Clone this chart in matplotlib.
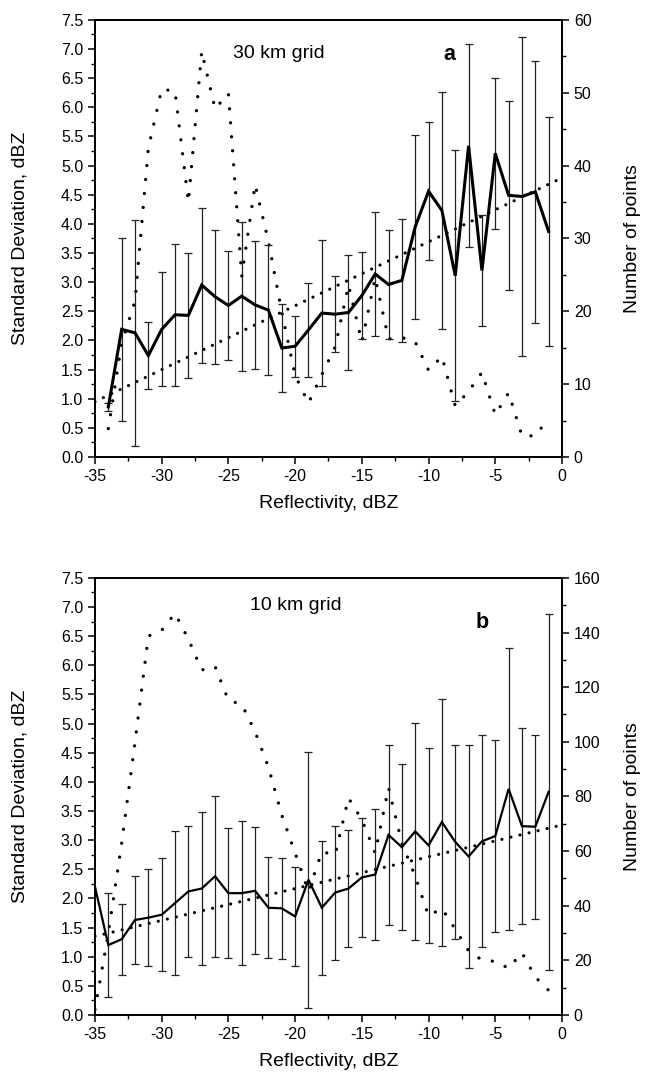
import numpy as np
import matplotlib
matplotlib.use("Agg")
import matplotlib.pyplot as plt
from matplotlib.ticker import MultipleLocator, FormatStrFormatter

plt.rcParams['font.family'] = ['Liberation Sans', 'DejaVu Sans']
plt.rcParams['axes.unicode_minus'] = False

# ---- panel a : 30 km grid ----
refl_a = [-34, -33, -32, -31, -30, -29, -28, -27, -26, -25, -24, -23, -22, -21, -20, -19, -18,
          -17, -16, -15, -14, -13, -12, -11, -10, -9, -8, -7, -6, -5, -4, -3, -2, -1]
sd_a = [0.86, 2.19, 2.13, 1.74, 2.19, 2.44, 2.43, 2.95, 2.75, 2.60, 2.76, 2.61, 2.52, 1.87, 1.90, 2.18, 2.47,
        2.45, 2.48, 2.77, 3.14, 2.96, 3.03, 3.95, 4.56, 4.23, 3.11, 5.34, 3.20, 5.21, 4.49, 4.47, 4.55, 3.87]
err_a = [0.07, 1.57, 1.94, 0.57, 0.98, 1.22, 1.07, 1.33, 1.15, 0.93, 1.28, 1.10, 1.12, 0.75, 0.52, 0.81, 1.25,
         0.65, 0.98, 0.74, 1.06, 0.94, 1.05, 1.58, 1.18, 2.03, 2.15, 1.74, 0.96, 1.29, 1.62, 2.73, 2.25, 1.97]
npts_a = [3.9, 15.6, 21.4, 42.4, 50.5, 50.2, 35.0, 55.7, 47.8, 49.9, 24.8, 37.4, 29.6, 19.9, 11.2, 7.4, 11.3,
          15.1, 23.6, 15.8, 24.6, 16.2, 16.4, 15.8, 11.9, 13.8, 7.0, 9.0, 11.6, 5.8, 8.8, 2.9, 2.9, 5.3]
fit_x_a = [-35, 0]
fit_y_a = [0.95, 4.79]

# ---- panel b : 10 km grid ----
refl_b = [-35, -34, -33, -32, -31, -30, -29, -28, -27, -26, -25, -24, -23, -22, -21, -20, -19, -18,
          -17, -16, -15, -14, -13, -12, -11, -10, -9, -8, -7, -6, -5, -4, -3, -2, -1]
sd_b = [2.20, 1.20, 1.30, 1.63, 1.67, 1.72, 1.92, 2.12, 2.17, 2.38, 2.09, 2.09, 2.13, 1.84, 1.83, 1.69, 2.32, 1.84,
        2.10, 2.17, 2.36, 2.41, 3.09, 2.88, 3.15, 2.91, 3.31, 2.97, 2.72, 2.98, 3.07, 3.88, 3.24, 3.23, 3.83]
err_b = [np.nan, 0.90, 0.61, 0.75, 0.83, 0.97, 1.24, 1.13, 1.31, 1.38, 1.12, 1.24, 1.09, 0.87, 0.87, 0.85, 2.20, 1.15,
         1.15, 1.01, 1.02, 1.13, 1.55, 1.43, 1.86, 1.67, 2.12, 1.67, 1.92, 1.82, 1.65, 2.42, 1.68, 1.58, 3.05]
npts_b = [2.0, 29.9, 62.9, 99.8, 138.7, 140.8, 147.0, 137.6, 126.3, 127.6, 115.2, 113.7, 103.7, 90.7, 73.2, 59.3, 45.2, 59.7,
          58.7, 79.4, 71.5, 59.3, 83.2, 62.9, 50.8, 36.3, 39.0, 31.4, 23.5, 20.1, 19.6, 17.1, 22.8, 13.9, 9.0]
fit_x_b = [-35, 0]
fit_y_b = [1.35, 3.26]


def panel(rect, x, sd, err, npts, fx, fy, nmax, nstep, grid_txt, tag, tag_xy, grid_xy, lw_mean):
    ax = fig.add_axes(rect)
    ax2 = ax.twinx()
    ax.set_zorder(ax2.get_zorder() + 1)
    ax.patch.set_visible(False)

    ax2.plot(x, npts, color='black', lw=2.4, linestyle=(0, (0.01, 4.2)),
             dash_capstyle='round')
    ax.plot(fx, fy, color='black', lw=2.3, linestyle=(0, (0.01, 2.9)),
            dash_capstyle='round')
    ax.errorbar(x, sd, yerr=err, fmt='none', ecolor='#222222', elinewidth=0.9,
                capsize=3, capthick=0.9)
    ax.plot(x, sd, color='black', lw=lw_mean, solid_joinstyle='miter')

    ax.set_xlim(-35, 0)
    ax.set_ylim(0, 7.5)
    ax2.set_ylim(0, nmax)
    ax.xaxis.set_major_locator(MultipleLocator(5))
    ax.xaxis.set_minor_locator(MultipleLocator(2.5))
    ax.yaxis.set_major_locator(MultipleLocator(0.5))
    ax.yaxis.set_minor_locator(MultipleLocator(0.25))
    ax.yaxis.set_major_formatter(FormatStrFormatter('%.1f'))
    ax2.yaxis.set_major_locator(MultipleLocator(nstep))
    ax2.yaxis.set_minor_locator(MultipleLocator(nstep / 2))

    for a in (ax, ax2):
        for s in a.spines.values():
            s.set_linewidth(1.3)
        a.tick_params(which='major', direction='out', length=5, width=1.1, labelsize=11.5)
        a.tick_params(which='minor', direction='out', length=3, width=1.0)
    ax.tick_params(axis='y', which='both', right=False)

    ax.set_xlabel('Reflectivity, dBZ', fontsize=14)
    ax.set_ylabel('Standard Deviation, dBZ', fontsize=14)
    ax2.set_ylabel('Number of points', fontsize=14)
    ax.xaxis.set_label_coords(0.5, -0.088)
    ax.yaxis.set_label_coords(-0.143, 0.5)
    ax2.yaxis.set_label_coords(1.132, 0.5)

    ax.text(grid_xy[0], grid_xy[1], grid_txt, transform=ax.transAxes, fontsize=14,
            ha='left', va='center')
    ax.text(tag_xy[0], tag_xy[1], tag, transform=ax.transAxes, fontsize=15.5,
            fontweight='bold', ha='center', va='center')
    return ax


fig = plt.figure(figsize=(6.47, 10.77), dpi=100)

panel([0.1468, 0.5757, 0.7218, 0.4058], refl_a, sd_a, err_a, npts_a, fit_x_a, fit_y_a,
      60, 10, '30 km grid', 'a', (0.758, 0.922), (0.295, 0.924), 2.2)
panel([0.1468, 0.0576, 0.7218, 0.4058], refl_b, sd_b, err_b, npts_b, fit_x_b, fit_y_b,
      160, 20, '10 km grid', 'b', (0.829, 0.899), (0.332, 0.938), 1.6)

fig.savefig('out.png', dpi=100)
